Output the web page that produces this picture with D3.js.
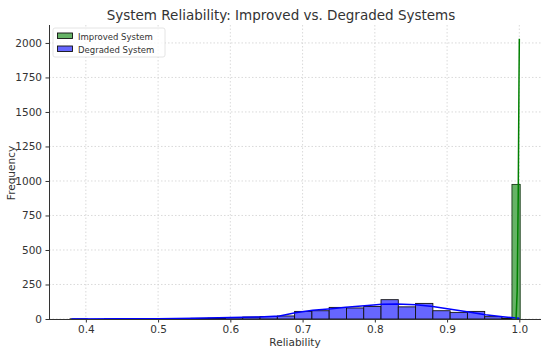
<!DOCTYPE html>
<meta charset="utf-8">
<head>
<style>
html, body{margin:0px; padding:0px; background:white;}
text {font-family: "DejaVu Sans", sans-serif; fill:#333;}
</style>
</head>
<script src="https://d3js.org/d3.v7.min.js"></script>

<div id="my_dataviz"></div>

<script>

// ---- data ----
// degraded system: histogram, 26 bins from 0.378 to 1.0
var degradedStart = 0.378
var degradedBinWidth = 0.02392
var degradedCounts = [1, 0, 1, 1, 2, 2, 3, 5, 6, 10, 14, 18, 22,
                      55, 60, 84, 80, 91, 140, 88, 113, 60, 48, 55, 17, 6]
// degraded kde curve (x, scaled frequency)
var degradedKdeX = [0.38, 0.45, 0.5, 0.55, 0.6, 0.64, 0.668, 0.69, 0.714, 0.74, 0.76, 0.79, 0.81, 0.83, 0.857, 0.88, 0.905, 0.93, 0.953, 0.977, 1.0]
var degradedKdeY = [0, 1, 2, 5, 10, 15, 22, 45, 64, 74, 86, 97, 106, 109, 104, 90, 70, 50, 30, 17, 5]

// improved system: one visible bin right at 1.0
var improvedBinEdges = [0.9898, 1.0012]
var improvedCounts = [975]
var improvedKdeX = [0.9955, 0.997, 0.9985, 0.9995, 1.0]
var improvedKdeY = [0, 200, 900, 1700, 2030]

var xTicks = [0.4, 0.5, 0.6, 0.7, 0.8, 0.9, 1.0]
var yTicks = [0, 250, 500, 750, 1000, 1250, 1500, 1750, 2000]
var legendLabels = ["Improved System", "Degraded System"]

// ---- layout ----
var margin = {top: 25, right: 9, bottom: 34, left: 49},
  width = 550 - margin.left - margin.right,
  height = 353 - margin.top - margin.bottom

var svgRoot = d3.select("#my_dataviz")
.append("svg")
  .attr("width", 550)
  .attr("height", 353)
var svg = svgRoot.append("g")
  .attr("transform", "translate(" + margin.left + "," + margin.top + ")")

var x = d3.scaleLinear().domain([0.349, 1.030]).range([0, width])
var y = d3.scaleLinear().domain([0, 2130]).range([height, 0])

// grid
svg.append("g")
  .selectAll("line").data(xTicks).enter().append("line")
    .attr("x1", function(d){ return x(d) }).attr("x2", function(d){ return x(d) })
    .attr("y1", 0).attr("y2", height)
    .style("stroke", "#d0d0d0").style("stroke-width", 0.8).style("stroke-dasharray", "1.5,2")
svg.append("g")
  .selectAll("line").data(yTicks).enter().append("line")
    .attr("y1", function(d){ return y(d) }).attr("y2", function(d){ return y(d) })
    .attr("x1", 0).attr("x2", width)
    .style("stroke", "#d0d0d0").style("stroke-width", 0.8).style("stroke-dasharray", "1.5,2")

// degraded bars
var degradedBins = degradedCounts.map(function(c, i){
  return {x0: degradedStart + i*degradedBinWidth, x1: degradedStart + (i+1)*degradedBinWidth, count: c}
})
svg.append("g").selectAll("rect").data(degradedBins).enter().append("rect")
  .attr("x", function(d){ return x(d.x0) })
  .attr("y", function(d){ return y(d.count) })
  .attr("width", function(d){ return x(d.x1) - x(d.x0) })
  .attr("height", function(d){ return y(0) - y(d.count) })
  .style("fill", "rgb(102,102,255)")
  .style("stroke", "#111").style("stroke-width", 0.9)

// improved bars
var improvedBins = improvedCounts.map(function(c, i){
  return {x0: improvedBinEdges[i], x1: improvedBinEdges[i+1], count: c}
})
svg.append("g").selectAll("rect").data(improvedBins).enter().append("rect")
  .attr("x", function(d){ return x(d.x0) })
  .attr("y", function(d){ return y(d.count) })
  .attr("width", function(d){ return x(d.x1) - x(d.x0) })
  .attr("height", function(d){ return y(0) - y(d.count) })
  .style("fill", "rgb(102,179,102)")
  .style("stroke", "#1a3a1a").style("stroke-width", 0.9)

// kde lines
var line = d3.line().x(function(d){ return x(d[0]) }).y(function(d){ return y(d[1]) })
svg.append("path")
  .datum(d3.zip(degradedKdeX, degradedKdeY))
  .attr("d", line)
  .style("fill", "none").style("stroke", "#0000ff").style("stroke-width", 1.5)
svg.append("path")
  .datum(d3.zip(improvedKdeX, improvedKdeY))
  .attr("d", line)
  .style("fill", "none").style("stroke", "#008000").style("stroke-width", 1.5)

// axes
var xAxis = svg.append("g")
  .attr("transform", "translate(0," + height + ")")
  .call(d3.axisBottom(x).tickValues(xTicks).tickFormat(d3.format(".1f")).tickSize(3.5).tickPadding(3.5))
var yAxis = svg.append("g")
  .call(d3.axisLeft(y).tickValues(yTicks).tickFormat(d3.format("d")).tickSize(3.5).tickPadding(3.5))
;[xAxis, yAxis].forEach(function(a){
  a.selectAll("text").style("font-size", "10.5px").style("font-family", "DejaVu Sans").style("fill", "#333")
  a.selectAll("line").style("stroke", "#333")
  a.select(".domain").style("stroke", "#333").style("stroke-width", 1)
})
xAxis.select(".domain").attr("d", "M0,0.5H" + width)
yAxis.select(".domain").attr("d", "M0.5," + height + "V0")

// labels
svgRoot.append("text")
  .attr("x", 281).attr("y", 20)
  .attr("text-anchor", "middle")
  .style("font-size", "13.5px")
  .text("System Reliability: Improved vs. Degraded Systems")
svgRoot.append("text")
  .attr("x", margin.left + width/2).attr("y", 346)
  .attr("text-anchor", "middle")
  .style("font-size", "10.5px")
  .text("Reliability")
svgRoot.append("text")
  .attr("transform", "translate(15,173) rotate(-90)")
  .attr("text-anchor", "middle")
  .style("font-size", "10.5px")
  .text("Frequency")

// legend
var legend = svg.append("g").attr("transform", "translate(4,3)")
legend.append("rect")
  .attr("width", 112).attr("height", 29).attr("rx", 2)
  .style("fill", "white").style("fill-opacity", 0.8).style("stroke", "#ddd").style("stroke-width", 0.8)
var legendFills = ["rgb(102,179,102)", "rgb(102,102,255)"]
legendLabels.forEach(function(l, i){
  legend.append("rect")
    .attr("x", 4.5).attr("y", 5 + i*13).attr("width", 15).attr("height", 5.5)
    .style("fill", legendFills[i]).style("stroke", "#111").style("stroke-width", 0.9)
  legend.append("text")
    .attr("x", 25).attr("y", 11.5 + i*13)
    .style("font-size", "8.5px")
    .text(l)
})

</script>
</html>
